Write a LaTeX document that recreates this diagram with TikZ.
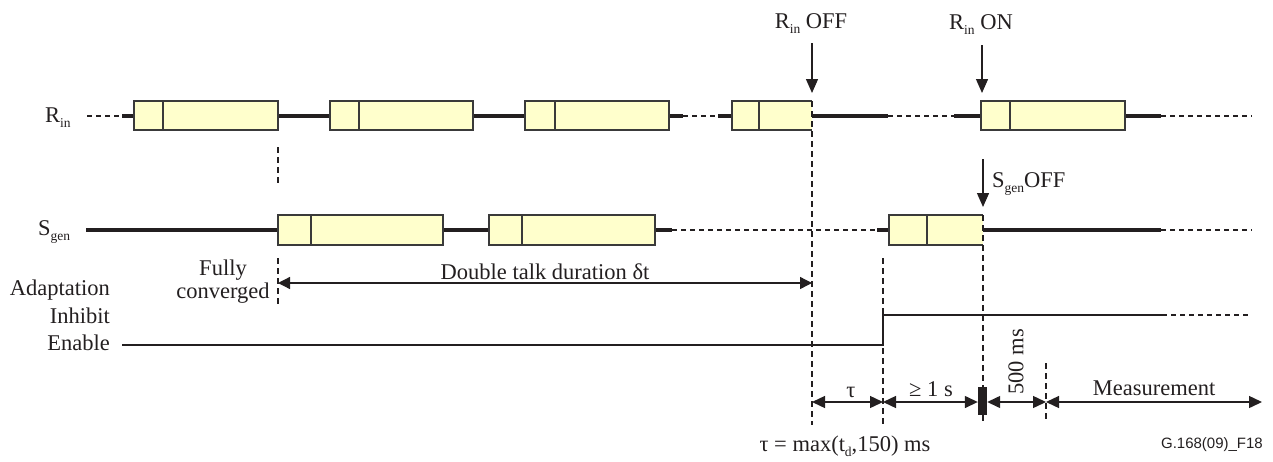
\documentclass[tikz,border=0pt]{standalone}
\usepackage{fontspec}
\setmainfont{Liberation Serif}
\newfontfamily\labelsans{Liberation Sans}
\usetikzlibrary{arrows.meta}
\definecolor{boxfill}{HTML}{FFFFCC}
\definecolor{boxline}{HTML}{3A3A3A}
\definecolor{ink}{HTML}{231F20}
\newcommand{\sbs}[1]{\raisebox{-5pt}{\fontsize{13.5}{13.5}\selectfont #1}}
\newcommand{\sigbox}[5]{% x1, xdiv, x2, ytop, ybot
  \draw[sbox] (#1,#4) rectangle (#3,#5);
  \draw[boxline, line width=1.2pt] (#2,#4) -- (#2,#5);}
\newcommand{\sigboxopen}[5]{% right edge left for a dashed guide
  \fill[boxfill] (#1,#4) rectangle (#3,#5);
  \draw[boxline, line width=1.2pt] (#3,#4) -- (#1,#4) -- (#1,#5) -- (#3,#5);
  \draw[boxline, line width=1.2pt] (#2,#4) -- (#2,#5);}
\begin{document}
\begin{tikzpicture}[x=1pt,y=-1pt,
  every node/.style={font=\fontsize{22.5}{26}\selectfont, inner sep=0pt, text=ink},
  sig/.style={line width=3.6pt, draw=ink},
  sigdash/.style={line width=1.2pt, draw=ink, dash pattern=on 5pt off 4pt},
  guide/.style={line width=1.2pt, draw=ink, dash pattern=on 6pt off 4pt},
  sbox/.style={draw=boxline, fill=boxfill, line width=1.2pt},
  dimline/.style={line width=1.4pt, draw=ink, {Triangle[length=13pt,width=12pt]}-{Triangle[length=13pt,width=12pt]}},
  evarrow/.style={line width=1.3pt, draw=ink, -{Triangle[length=14pt,width=12pt]}},
  adapt/.style={line width=2.2pt, draw=ink}
]
\useasboundingbox (0,0) rectangle (1273,461);

% ---------- R_in row ----------
\node[anchor=base west] (rin) at (45,122) {R\sbs{in}};
\draw[sigdash] (87,116) -- (122,116);
\draw[sig] (122,116) -- (134,116);
\draw[sig] (278,116) -- (330,116);
\draw[sig] (473,116) -- (525,116);
\draw[sig] (669,116) -- (683,116);
\draw[sigdash] (683,116) -- (718,116);
\draw[sig] (718,116) -- (732,116);
\draw[sig] (812,116) -- (888,116);
\draw[sigdash] (888,116) -- (954,116);
\draw[sig] (954,116) -- (981,116);
\draw[sig] (1125,116) -- (1161,116);
\draw[sigdash] (1161,116) -- (1252,116);
\sigbox{134}{163}{278}{101}{130}
\sigbox{330}{359}{473}{101}{130}
\sigbox{525}{555}{669}{101}{130}
\sigboxopen{732}{759}{812}{101}{130}
\sigbox{981}{1010}{1125}{101}{130}

% ---------- S_gen row ----------
\node[anchor=base west] (sgen) at (38,235) {S\sbs{gen}};
\draw[sig] (86,230) -- (278,230);
\draw[sig] (443,230) -- (489,230);
\draw[sig] (655,230) -- (672,230);
\draw[sigdash] (672,230) -- (877,230);
\draw[sig] (877,230) -- (889,230);
\draw[sig] (983,230) -- (1161,230);
\draw[sigdash] (1161,230) -- (1252,230);
\sigbox{278}{311}{443}{215}{245}
\sigbox{489}{522}{655}{215}{245}
\sigboxopen{889}{927}{983}{215}{245}

% ---------- guides ----------
\draw[guide] (278,147) -- (278,185);
\draw[guide] (278,258) -- (278,305);
\draw[guide] (812,101) -- (812,425);
\draw[guide] (883,258) -- (883,425);
\draw[guide] (983,215) -- (983,423);
\draw[guide] (1046,363) -- (1046,420);

% ---------- event arrows ----------
\node[anchor=base] (rinoff) at (811,28) {R\sbs{in} OFF};
\coordinate (rinoffA) at (812,43);
\coordinate (rinoffB) at (812,93);
\draw[evarrow] (rinoffA) -- (rinoffB);
\node[anchor=base] (rinon) at (981,29) {R\sbs{in} ON};
\coordinate (rinonA) at (982,45);
\coordinate (rinonB) at (982,93);
\draw[evarrow] (rinonA) -- (rinonB);
\node[anchor=base west] (sgenoff) at (992,187) {S\sbs{gen}OFF};
\coordinate (sgenoffA) at (983,159);
\coordinate (sgenoffB) at (983,207);
\draw[evarrow] (sgenoffA) -- (sgenoffB);

% ---------- double talk ----------
\node[anchor=base] (fully) at (223,275) {Fully};
\node[anchor=base] (conv) at (223,298) {converged};
\coordinate (dtA) at (278,283);
\coordinate (dtB) at (812,283);
\draw[line width=1.3pt, draw=ink, {Triangle[length=12pt,width=12pt]}-{Triangle[length=12pt,width=12pt]}] (dtA) -- (dtB);
\node[anchor=base] (dtlabel) at (545,279) {Double talk duration δt};

% ---------- adaptation ----------
\node[anchor=base east] (adaptation) at (110,295) {Adaptation};
\node[anchor=base east] (inhibit) at (110,323) {Inhibit};
\node[anchor=base east] (enable) at (110,350) {Enable};
\draw[adapt] (122,345) -- (883,345) -- (883,315) -- (1162,315);
\draw[sigdash] (1162,315) -- (1250,315);

% ---------- dimensions ----------
\node[fill=ink, minimum width=9pt, minimum height=28pt] (bar) at (982.5,401) {};
\coordinate (d0) at (812,402);
\coordinate (d1) at (883,402);
\coordinate (d4) at (1046,402);
\coordinate (d5) at (1262,402);
\draw[dimline] (d0) -- (d1);
\draw[dimline] (d1) -- (bar.west |- d1);
\draw[dimline] (bar.east |- d1) -- (d4);
\draw[dimline] (d4) -- (d5);
\node[anchor=base] (tau) at (851,397) {τ};
\node[anchor=base] (geq) at (931,396) {≥ 1 s};
\node[rotate=90] (ms500) at (1016,362) {500 ms};
\node[anchor=base] (meas) at (1154,395) {Measurement};
\node[anchor=base] (formula) at (845,451) {τ = max(t\sbs{d},150) ms};
\node[anchor=base east, font=\labelsans\fontsize{15}{15}\selectfont] (figid) at (1263,448) {G.168(09)\_F18};
\end{tikzpicture}
\end{document}
